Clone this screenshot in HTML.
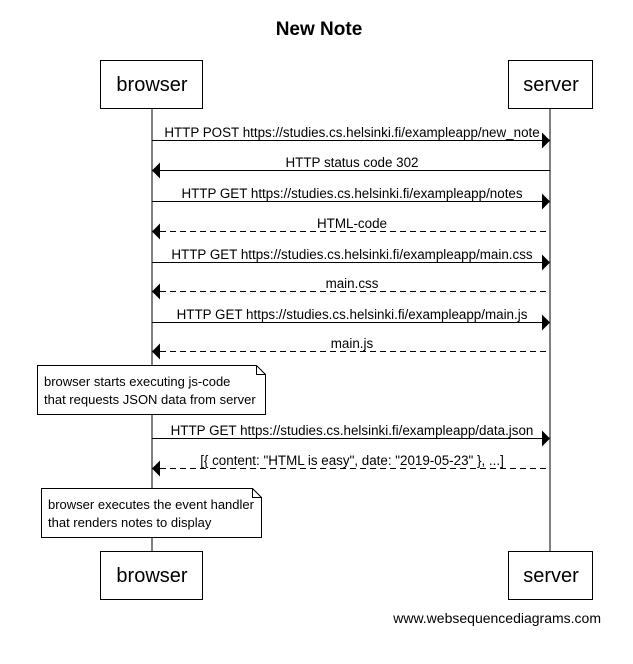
<!DOCTYPE html>
<html><head><style>body{margin:0;background:#fff}</style></head><body>
<svg width="633" height="659" xmlns="http://www.w3.org/2000/svg" font-family="Liberation Sans, sans-serif">
<rect width="633" height="659" fill="#fff"/>
<text x="319" y="35" font-size="19" font-weight="bold" text-anchor="middle">New Note</text>
<g stroke="#000" stroke-width="1" fill="#fff">
<line x1="152" y1="108" x2="152" y2="551"/>
<line x1="550" y1="108" x2="550" y2="551"/>
<rect x="100.5" y="60.5" width="102" height="48"/>
<rect x="508.5" y="60.5" width="84" height="48"/>
<rect x="100.5" y="551.5" width="102" height="48"/>
<rect x="508.5" y="551.5" width="84" height="48"/>
</g>
<g font-size="20" text-anchor="middle">
<text x="152" y="91">browser</text><text x="551" y="91">server</text>
<text x="152" y="582">browser</text><text x="551" y="582">server</text>
</g>
<g stroke="#000" stroke-width="1">
<line x1="152" y1="140.5" x2="542" y2="140.5"/>
<line x1="160" y1="170.5" x2="550" y2="170.5"/>
<line x1="152" y1="201.5" x2="542" y2="201.5"/>
<line x1="160" y1="231.5" x2="550" y2="231.5" stroke-dasharray="6,4"/>
<line x1="152" y1="262.5" x2="542" y2="262.5"/>
<line x1="160" y1="291.5" x2="550" y2="291.5" stroke-dasharray="6,4"/>
<line x1="152" y1="322.5" x2="542" y2="322.5"/>
<line x1="160" y1="351.5" x2="550" y2="351.5" stroke-dasharray="6,4"/>
<line x1="152" y1="438.5" x2="542" y2="438.5"/>
<line x1="160" y1="468.5" x2="550" y2="468.5" stroke-dasharray="6,4"/>
</g>
<g fill="#000">
<polygon points="550,140.5 542,132.5 542,148.5"/>
<polygon points="152,170.5 160,162.5 160,178.5"/>
<polygon points="550,201.5 542,193.5 542,209.5"/>
<polygon points="152,231.5 160,223.5 160,239.5"/>
<polygon points="550,262.5 542,254.5 542,270.5"/>
<polygon points="152,291.5 160,283.5 160,299.5"/>
<polygon points="550,322.5 542,314.5 542,330.5"/>
<polygon points="152,351.5 160,343.5 160,359.5"/>
<polygon points="550,438.5 542,430.5 542,446.5"/>
<polygon points="152,468.5 160,460.5 160,476.5"/>
</g>
<g font-size="13.4" text-anchor="middle">
<text x="352" y="137">HTTP POST https://studies.cs.helsinki.fi/exampleapp/new_note</text>
<text x="352" y="167">HTTP status code 302</text>
<text x="352" y="198">HTTP GET https://studies.cs.helsinki.fi/exampleapp/notes</text>
<text x="352" y="228">HTML-code</text>
<text x="352" y="259">HTTP GET https://studies.cs.helsinki.fi/exampleapp/main.css</text>
<text x="352" y="288">main.css</text>
<text x="352" y="319">HTTP GET https://studies.cs.helsinki.fi/exampleapp/main.js</text>
<text x="352" y="348">main.js</text>
<text x="352" y="435">HTTP GET https://studies.cs.helsinki.fi/exampleapp/data.json</text>
<text x="352" y="465">[{ content: "HTML is easy", date: "2019-05-23" }, ...]</text>
</g>
<g stroke="#000" fill="#fff">
<polygon points="37.5,365.5 256.5,365.5 265.5,374.5 265.5,414.5 37.5,414.5"/>
<polyline points="256.5,365.5 256.5,374.5 265.5,374.5" fill="none"/>
<polygon points="41.5,488.5 252.5,488.5 261.5,497.5 261.5,537.5 41.5,537.5"/>
<polyline points="252.5,488.5 252.5,497.5 261.5,497.5" fill="none"/>
</g>
<g font-size="13">
<text x="44" y="386">browser starts executing js-code</text>
<text x="44" y="404">that requests JSON data from server</text>
<text x="48" y="509">browser executes the event handler</text>
<text x="48" y="527">that renders notes to display</text>
</g>
<text x="601" y="623" font-size="14" text-anchor="end">www.websequencediagrams.com</text>
</svg>
</body></html>
